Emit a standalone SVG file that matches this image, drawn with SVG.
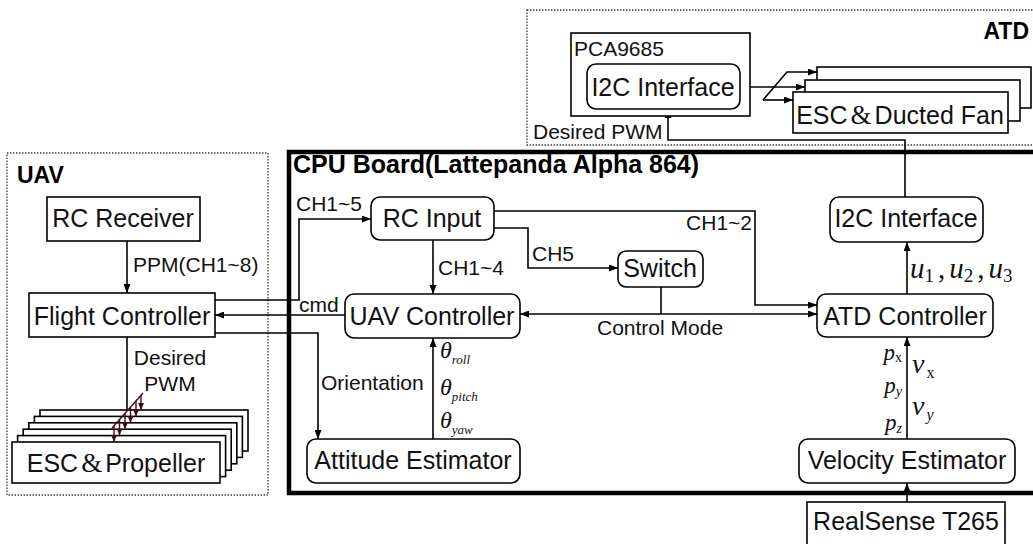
<svg xmlns="http://www.w3.org/2000/svg" width="1033" height="544" viewBox="0 0 1033 544">
<style>
.bx{fill:#fff;stroke:#000;stroke-width:1.6}
.dot{fill:none;stroke:#333;stroke-width:1.3;stroke-dasharray:1.4 1.6}
.cpu{fill:none;stroke:#000;stroke-width:4.5}
.t{font-family:"Liberation Sans",Arial,sans-serif;font-size:25px;fill:#111;text-anchor:middle}
.l{font-family:"Liberation Sans",Arial,sans-serif;font-size:21px;fill:#111}
.b{font-family:"Liberation Sans",Arial,sans-serif;font-weight:bold;fill:#000}
.m{font-family:"Liberation Serif","Times New Roman",serif;fill:#111}
.amp{font-family:"Liberation Serif","Times New Roman",serif;font-size:27px}
.c{fill:none;stroke:#000;stroke-width:1.6}
.r{fill:none;stroke:#3a1010;stroke-width:1.4}
</style>
<defs>
<marker id="a" markerUnits="userSpaceOnUse" markerWidth="9" markerHeight="7" refX="9" refY="3.5" orient="auto-start-reverse"><path d="M0,0 L9,3.5 L0,7 z" fill="#000"/></marker>
<marker id="ar" markerUnits="userSpaceOnUse" markerWidth="7" markerHeight="6" refX="7" refY="3" orient="auto"><path d="M0,0 L7,3 L0,6 z" fill="#3a1010"/></marker>
</defs>
<rect width="1033" height="544" fill="#fff"/>

<g id="atd-region">
<rect class="dot" x="527" y="10" width="512" height="135"/>
<text class="b" x="1029" y="39" font-size="23" text-anchor="end">ATD</text>
</g>
<g id="uav-region">
<rect class="dot" x="7" y="153" width="261" height="342"/>
<text class="b" x="17" y="183" font-size="23">UAV</text>
</g>
<g id="cpu-region">
<rect class="cpu" x="289" y="152" width="750" height="341"/>
<text class="b" x="293" y="173" font-size="25">CPU Board(Lattepanda Alpha 864)</text>
</g>

<g id="connectors">
<path class="c" d="M127,241 V293" marker-end="url(#a)"/>
<path class="c" d="M127,337 V411"/>
<path class="c" d="M215,300 H299 V219 H371" marker-end="url(#a)"/>
<path class="c" d="M345,315 H215" marker-end="url(#a)"/>
<path class="c" d="M215,333 H318 V439" marker-end="url(#a)"/>
<path class="c" d="M433,240 V294" marker-end="url(#a)"/>
<path class="c" d="M494,228 H528 V268 H618" marker-end="url(#a)"/>
<path class="c" d="M494,211 H755 V305 H817" marker-end="url(#a)"/>
<path class="c" d="M661,287 V314"/>
<path class="c" d="M520,314 H817" marker-start="url(#a)" marker-end="url(#a)"/>
<path class="c" d="M433,439 V338" marker-end="url(#a)"/>
<path class="c" d="M907,294 V242" marker-end="url(#a)"/>
<path class="c" d="M905,197 V140 H668 V109" marker-end="url(#a)"/>
<path class="c" d="M740,87 H805" marker-end="url(#a)"/>
<path class="c" d="M763,100 L787,72 H817" marker-end="url(#a)"/>
<path class="c" d="M763,100 H793" marker-end="url(#a)"/>
<path class="c" d="M907,439 V337" marker-end="url(#a)"/>
<path class="c" d="M907,502 V483" marker-end="url(#a)"/>
</g>

<g id="esc-propeller">
<rect class="bx" x="40" y="410" width="208" height="41"/>
<rect class="bx" x="34.4" y="416.4" width="208" height="41"/>
<rect class="bx" x="28.8" y="422.8" width="208" height="41"/>
<rect class="bx" x="23.2" y="429.2" width="208" height="41"/>
<rect class="bx" x="17.6" y="435.6" width="208" height="41"/>
<rect class="bx" x="12" y="442" width="208" height="41"/>
<text class="t" x="116" y="472">ESC<tspan class="amp" dx="3">&amp;</tspan><tspan dx="3">Propeller</tspan></text>
</g>
<g id="pwm-fan">
<path class="r" d="M112,428 L143,393"/>
<path class="r" d="M114,426 V442" marker-end="url(#ar)"/>
<path class="r" d="M119.5,420 V435.6" marker-end="url(#ar)"/>
<path class="r" d="M125,414 V429.2" marker-end="url(#ar)"/>
<path class="r" d="M130.5,407.5 V422.8" marker-end="url(#ar)"/>
<path class="r" d="M136,401 V416.4" marker-end="url(#ar)"/>
<path class="r" d="M141,395 V410" marker-end="url(#ar)"/>
</g>

<g id="rc-receiver">
<rect class="bx" x="47" y="197" width="153" height="44"/>
<text class="t" x="123" y="227">RC Receiver</text>
</g>
<g id="flight-controller">
<rect class="bx" x="29" y="293" width="186" height="44"/>
<text class="t" x="122" y="325">Flight Controller</text>
</g>

<g id="rc-input">
<rect class="bx" x="371" y="197" width="123" height="43" rx="9"/>
<text class="t" x="432" y="227">RC Input</text>
</g>
<g id="switch">
<rect class="bx" x="618" y="251" width="85" height="36" rx="8"/>
<text class="t" x="660" y="277">Switch</text>
</g>
<g id="uav-controller">
<rect class="bx" x="345" y="294" width="175" height="44" rx="9"/>
<text class="t" x="432" y="325">UAV Controller</text>
</g>
<g id="attitude-estimator">
<rect class="bx" x="307" y="439" width="213" height="44" rx="9"/>
<text class="t" x="413" y="469">Attitude Estimator</text>
</g>
<g id="atd-controller">
<rect class="bx" x="817" y="294" width="176" height="43" rx="9"/>
<text class="t" x="905" y="325">ATD Controller</text>
</g>
<g id="i2c-cpu">
<rect class="bx" x="830" y="197" width="153" height="45" rx="9"/>
<text class="t" x="906" y="227">I2C Interface</text>
</g>
<g id="velocity-estimator">
<rect class="bx" x="799" y="439" width="216" height="44" rx="9"/>
<text class="t" x="907" y="469">Velocity Estimator</text>
</g>
<g id="realsense">
<rect class="bx" x="807" y="502" width="198" height="50"/>
<text class="t" x="906" y="530">RealSense T265</text>
</g>

<g id="pca9685">
<rect class="bx" x="571" y="33" width="179" height="83"/>
<text class="l" x="574" y="56" font-size="23">PCA9685</text>
</g>
<g id="i2c-pca">
<rect class="bx" x="587" y="64" width="153" height="45" rx="9"/>
<text class="t" x="663" y="96">I2C Interface</text>
</g>
<g id="esc-fan">
<rect class="bx" x="817" y="67" width="214" height="41"/>
<rect class="bx" x="805" y="80" width="215" height="41"/>
<rect class="bx" x="793" y="92" width="215" height="41"/>
<text class="t" x="900" y="124">ESC<tspan class="amp" dx="3">&amp;</tspan><tspan dx="3">Ducted Fan</tspan></text>
</g>

<g id="labels">
<text class="l" x="533" y="139">Desired PWM</text>
<text class="l" x="133" y="272">PPM(CH1~8)</text>
<text class="l" x="170" y="365" text-anchor="middle">Desired</text>
<text class="l" x="170" y="391" text-anchor="middle">PWM</text>
<text class="l" x="296" y="211">CH1~5</text>
<text class="l" x="299" y="312" font-size="20">cmd</text>
<text class="l" x="321" y="390" font-size="20">Orientation</text>
<text class="l" x="438" y="275">CH1~4</text>
<text class="l" x="532" y="261">CH5</text>
<text class="l" x="752" y="230" text-anchor="end">CH1~2</text>
<text class="l" x="597" y="335">Control Mode</text>
<text class="m" x="440" y="358" font-size="24"><tspan font-style="italic">θ</tspan><tspan font-size="13" font-style="italic" dy="6">roll</tspan></text>
<text class="m" x="440" y="395" font-size="24"><tspan font-style="italic">θ</tspan><tspan font-size="13" font-style="italic" dy="6">pitch</tspan></text>
<text class="m" x="440" y="428" font-size="24"><tspan font-style="italic">θ</tspan><tspan font-size="13" font-style="italic" dy="6">yaw</tspan></text>
<text class="m" x="910" y="278" font-size="29"><tspan font-style="italic">u</tspan><tspan font-size="19" dy="4">1</tspan><tspan dy="-4" dx="4">,</tspan><tspan font-style="italic" dx="4">u</tspan><tspan font-size="19" dy="4">2</tspan><tspan dy="-4" dx="4">,</tspan><tspan font-style="italic" dx="4">u</tspan><tspan font-size="19" dy="4">3</tspan></text>
<text class="m" x="902" y="360" font-size="23" text-anchor="end"><tspan font-style="italic">p</tspan><tspan font-size="14" dy="2">x</tspan></text>
<text class="m" x="902" y="393" font-size="23" text-anchor="end"><tspan font-style="italic">p</tspan><tspan font-size="14" font-style="italic" dy="3">y</tspan></text>
<text class="m" x="902" y="430" font-size="23" text-anchor="end"><tspan font-style="italic">p</tspan><tspan font-size="14" font-style="italic" dy="3">z</tspan></text>
<text class="m" x="912" y="373" font-size="28"><tspan font-style="italic">v</tspan><tspan font-size="16" dx="2" dy="5">x</tspan></text>
<text class="m" x="912" y="415" font-size="28"><tspan font-style="italic">v</tspan><tspan font-size="16" font-style="italic" dx="2" dy="5">y</tspan></text>
</g>
</svg>
